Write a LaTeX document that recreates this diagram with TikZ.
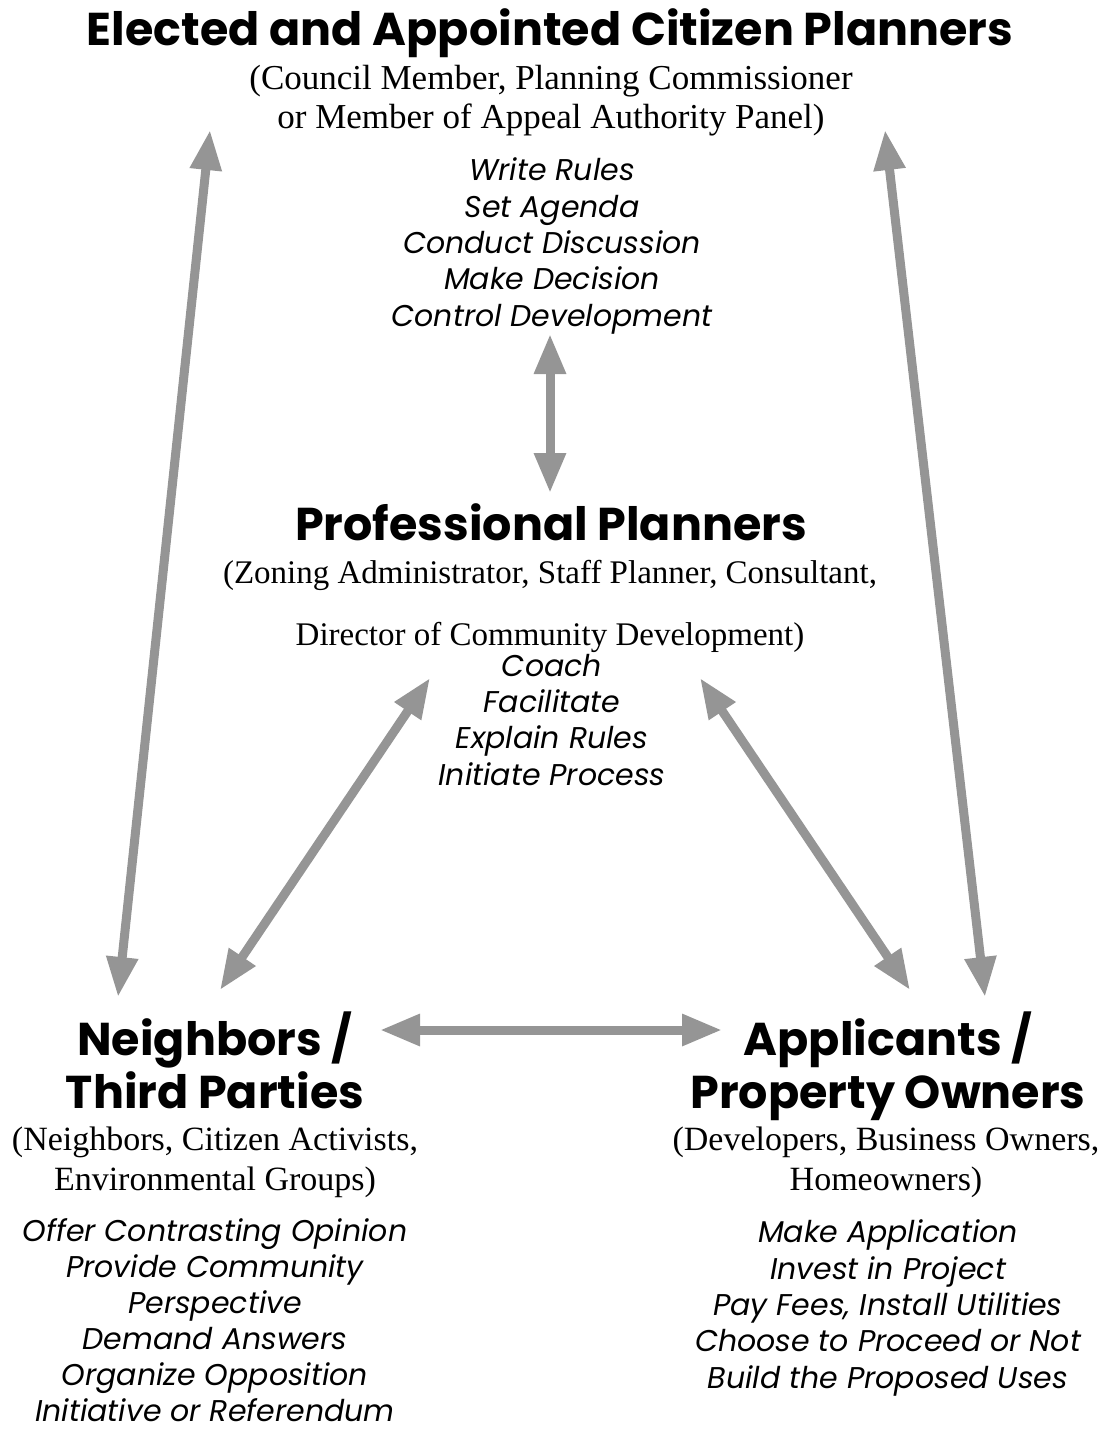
\documentclass[tikz,border=0pt]{standalone}
\usepackage{fontspec}
\setmainfont{Liberation Serif}
\newfontfamily\headfont{Poppins}
\usetikzlibrary{arrows.meta,positioning}

\definecolor{linkgray}{HTML}{959595}

\tikzset{
  role/.style={font=\headfont\bfseries\fontsize{46}{53}\selectfont, align=center, inner sep=0pt, anchor=base},
  members/.style={font=\fontsize{34}{40}\selectfont, align=center, inner sep=0pt, anchor=base},
  duties/.style={font=\headfont\itshape\fontsize{30}{36.3}\selectfont, align=center, inner sep=0pt, anchor=base},
  link/.style={line width=9pt, draw=linkgray, {Triangle[length=40pt,width=30pt]}-{Triangle[length=40pt,width=30pt]}}
}

\begin{document}
\begin{tikzpicture}[x=1pt,y=-1pt]
\useasboundingbox (0,0) rectangle (1109,1432);

% elected and appointed (nodes sit on their last baseline)
\node[role] (council) at (550,45) {Elected and Appointed Citizen Planners};
\node[members, font=\fontsize{35}{39}\selectfont] (councilmem) at (551,128) {(Council Member, Planning Commissioner\\or Member of Appeal Authority Panel)};
\node[duties] (councildo) at (552,326) {Write Rules\\Set Agenda\\Conduct Discussion\\Make Decision\\Control Development};

% professional
\node[role] (prof) at (551,540) {Professional Planners};
\node[members, font=\fontsize{33}{40}\selectfont] (profmem) at (550,645) {(Zoning Administrator, Staff Planner, Consultant,\\[22pt]Director of Community Development)};
\node[duties] (profdo) at (552,785) {Coach\\Facilitate\\Explain Rules\\Initiate Process};

% neighbors
\node[role] (neigh) at (215,1108) {Neighbors /\\Third Parties};
\node[members] (neighmem) at (215,1190) {(Neighbors, Citizen Activists,\\Environmental Groups)};
\node[duties, font=\headfont\itshape\fontsize{30}{36}\selectfont] (neighdo) at (215,1421) {Offer Contrasting Opinion\\Provide Community\\Perspective\\Demand Answers\\Organize Opposition\\Initiative or Referendum};

% applicants
\node[role] (appl) at (888,1108) {Applicants /\\Property Owners};
\node[members] (applmem) at (886,1190) {(Developers, Business Owners,\\Homeowners)};
\node[duties] (appldo) at (888,1388) {Make Application\\Invest in Project\\Pay Fees, Install Utilities\\Choose to Proceed or Not\\Build the Proposed Uses};

% arrow ends
\coordinate (councilL) at (210,130);
\coordinate (councilR) at (885,130);
\coordinate (councilB) at (550,334);
\coordinate (profT) at (550,493);
\coordinate (profL) at (430,678);
\coordinate (profR) at (700,678);
\coordinate (neighT) at (118,997);
\coordinate (neighP) at (220,990);
\coordinate (neighR) at (380,1030);
\coordinate (applT) at (985,997);
\coordinate (applP) at (910,990);
\coordinate (applL) at (722,1030);

\draw[link] (councilB) -- (profT);
\draw[link] (councilL) -- (neighT);
\draw[link] (councilR) -- (applT);
\draw[link] (profL) -- (neighP);
\draw[link] (profR) -- (applP);
\draw[link] (neighR) -- (applL);
\end{tikzpicture}
\end{document}
